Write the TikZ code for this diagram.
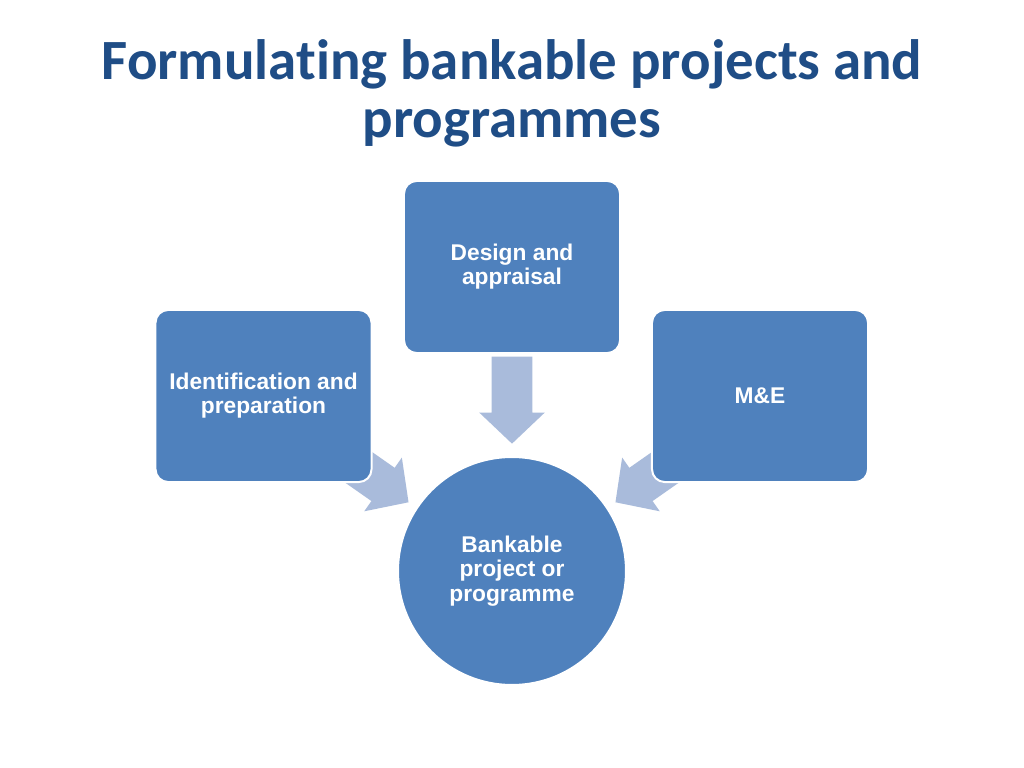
\documentclass[tikz,border=0pt]{standalone}
\usepackage{fontspec}
\setmainfont{Liberation Sans}
\newfontfamily\titlefont[RawFeature={-liga;-clig;-dlig}]{Carlito}
\usetikzlibrary{shapes.arrows,backgrounds}
\definecolor{boxblue}{HTML}{4F81BD}
\definecolor{arrowblue}{HTML}{A9BBDB}
\definecolor{titleblue}{HTML}{1F4D86}
\tikzset{
  stagebox/.style={draw=white, line width=1.4pt, fill=boxblue, rounded corners=9pt,
    minimum width=151.9pt, minimum height=121pt, text=white, align=center,
    font=\bfseries\fontsize{16}{17}\selectfont, inner sep=2pt},
  centrecircle/.style={circle, draw=white, line width=1.4pt, fill=boxblue,
    minimum size=160.3pt, text=white, align=center,
    font=\bfseries\fontsize{16}{17}\selectfont, inner sep=0pt},
  blockarrow/.style={single arrow, fill=arrowblue, draw=none,
    minimum height=61.2pt, inner xsep=0pt, inner ysep=14.06pt,
    single arrow head extend=8.8pt, single arrow tip angle=93},
  titletext/.style={text=titleblue, font=\titlefont\bfseries\fontsize{40}{41}\selectfont, anchor=base}
}
\begin{document}
\begin{tikzpicture}[x=0.703125pt, y=-0.703125pt]
\useasboundingbox (0,0) rectangle (1024,768);
\node[titletext] (title1) at (512,80) {Formulating bankable projects and};
\node[titletext] (title2) at (512,138) {programmes};
\node[stagebox] (design) at (512,267) {Design and\\appraisal};
\node[stagebox] (ident) at (263.5,396) {Identification and\\preparation};
\node[stagebox] (me) at (760,396) {M\&E};
\node[centrecircle] (bank) at (512,571) {Bankable\\project or\\programme};
\begin{scope}[on background layer]
  \fill[white] (0,0) rectangle (1024,768);
  \node[blockarrow, rotate=-90] (adown) at (512,390.5) {};
  \node[blockarrow, rotate=-35] (aleft) at (365,471.8) {};
  \node[blockarrow, rotate=-145] (aright) at (659,471.8) {};
\end{scope}
\end{tikzpicture}
\end{document}
